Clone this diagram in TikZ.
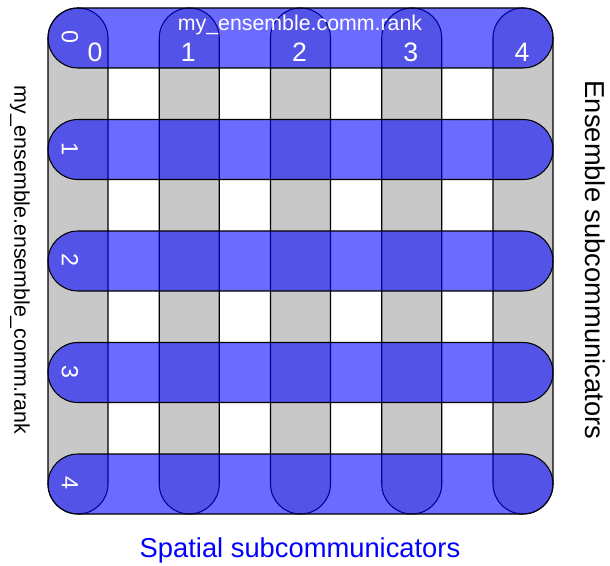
\documentclass[tikz,border=0pt]{standalone}
\usepackage{fontspec}
\setmainfont{Liberation Sans}
\usepackage{xcolor}
\usetikzlibrary{positioning}

\definecolor{colgrey}{RGB}{200,200,200}

\begin{document}
\begin{tikzpicture}[x=0.75pt, y=-0.75pt,
    every node/.append style={inner sep=0pt},
    commcol/.style={draw, line width=0.8pt, fill=colgrey, rounded corners=22.5pt, minimum width=45pt, minimum height=379.5pt},
    commrow/.style={draw, line width=0.8pt, fill=blue, fill opacity=0.58, rounded corners=22.5pt, minimum width=378.75pt, minimum height=45pt},
    collabel/.style={text=white, font=\fontsize{20}{24}\selectfont},
    rowlabel/.style={text=white, rotate=-90, font=\fontsize{17.5}{21}\selectfont},
]
\useasboundingbox (0,0) rectangle (610,566);

% grey columns, then the blue rows over them
\foreach \i in {0,...,4} {
    \node[commcol] (col\i) at ({78+111.25*\i}, 261) {};
}
\foreach \i in {0,...,4} {
    \node[commrow] (row\i) at (300.5, {38+111.5*\i}) {};
}

% ranks
\node[collabel] (clab0) at (95, 52) {0};
\foreach \i in {1,...,4} {
    \node[collabel] (clab\i) at ({77+111.25*\i}, 52) {\i};
}
\foreach \i in {0,...,4} {
    \node[rowlabel] (rlab\i) at (70, {37+111.5*\i}) {\i};
}

\node[text=white, font=\fontsize{16}{19}\selectfont] (toptitle) at (300, 25) {my\_ensemble.comm.rank};
\node[rotate=-90, font=\fontsize{16}{19}\selectfont] (lefttitle) at (20, 260) {my\_ensemble.ensemble\_comm.rank};
\node[rotate=-90, font=\fontsize{20.5}{24}\selectfont] (righttitle) at (595, 260) {Ensemble subcommunicators};
\node[text=blue, font=\fontsize{20.5}{24}\selectfont] (bottitle) at (300, 550) {Spatial subcommunicators};

\end{tikzpicture}
\end{document}
